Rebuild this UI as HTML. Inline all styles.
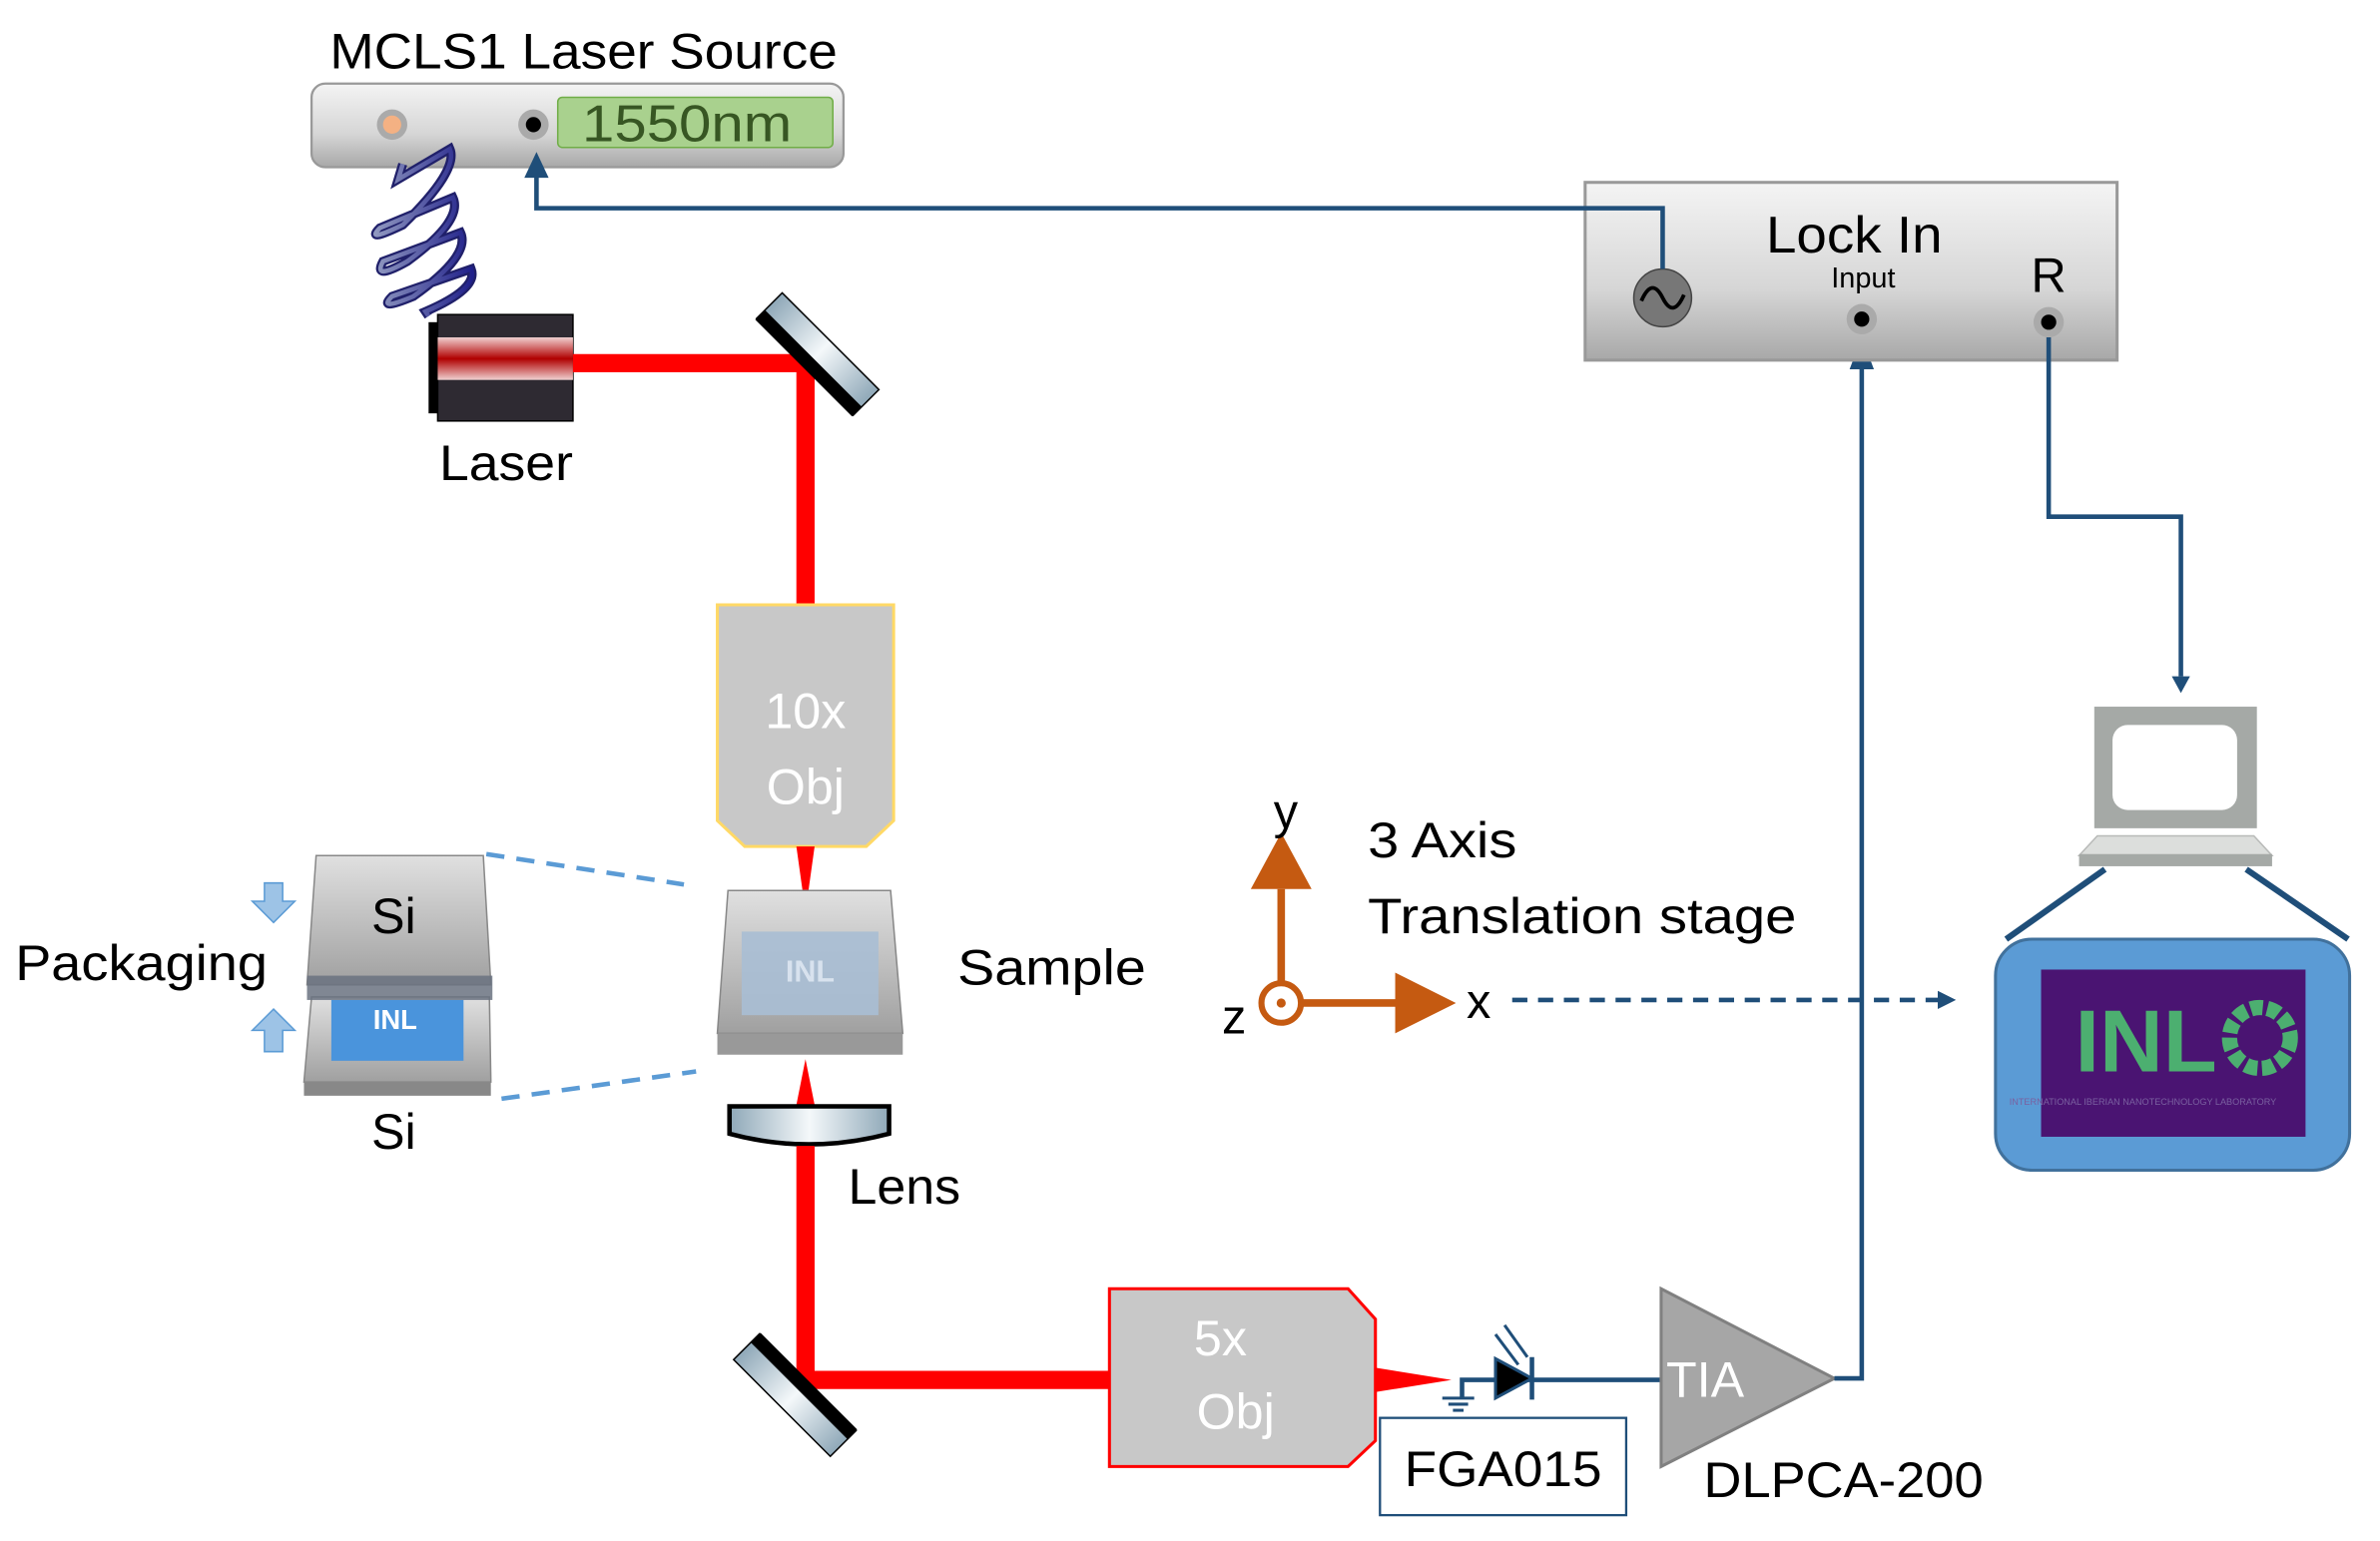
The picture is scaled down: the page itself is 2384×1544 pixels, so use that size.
<!DOCTYPE html>
<html><head><meta charset="utf-8"><style>
html,body{margin:0;padding:0;background:#fff}
svg{display:block}
text{font-family:"Liberation Sans",sans-serif}
</style></head><body>
<svg width="2384" height="1544" viewBox="0 0 1566 1014" preserveAspectRatio="none" xmlns="http://www.w3.org/2000/svg">
<defs>
<linearGradient id="box" x1="0" y1="0" x2="0" y2="1"><stop offset="0" stop-color="#f4f4f4"/><stop offset="0.6" stop-color="#d6d6d6"/><stop offset="1" stop-color="#a8a8a8"/></linearGradient>
<linearGradient id="las" x1="0" y1="0" x2="0" y2="1"><stop offset="0" stop-color="#f0d0d0"/><stop offset="0.5" stop-color="#b00000"/><stop offset="1" stop-color="#f0d0d0"/></linearGradient>
<linearGradient id="mir" x1="0" y1="0" x2="1" y2="0"><stop offset="0" stop-color="#8fa8b8"/><stop offset="0.5" stop-color="#f4f8fa"/><stop offset="1" stop-color="#8fa8b8"/></linearGradient>
<linearGradient id="chip" x1="0" y1="0" x2="0" y2="1"><stop offset="0" stop-color="#e0e0e0"/><stop offset="1" stop-color="#a0a0a0"/></linearGradient>
<linearGradient id="coil" x1="0" y1="0" x2="1" y2="0"><stop offset="0" stop-color="#9098c0"/><stop offset="1" stop-color="#20208a"/></linearGradient>
</defs>

<text x="384" y="45" font-size="33" text-anchor="middle" textLength="334" lengthAdjust="spacingAndGlyphs">MCLS1 Laser Source</text>
<rect x="205" y="55" width="350" height="55" rx="9" fill="url(#box)" stroke="#999" stroke-width="1.5"/>
<circle cx="258" cy="82" r="10" fill="#aaa"/><circle cx="258" cy="82" r="6" fill="#f4b183"/>
<circle cx="351" cy="82" r="10" fill="#aaa"/><circle cx="351" cy="82" r="5" fill="#000"/>
<rect x="367" y="64" width="181" height="33" rx="3" fill="#a9d18e" stroke="#70ad47"/>
<text x="452" y="93" font-size="34" fill="#375623" text-anchor="middle" textLength="138" lengthAdjust="spacingAndGlyphs">1550nm</text>

<path d="M265,108 L262,118 L296,98 Q302,112 265,148 Q240,160 250,150 L298,130 Q305,145 268,172 Q245,185 252,172 L303,153 Q310,168 272,195 Q248,205 258,195 L310,177 Q315,190 280,205 L282,208" fill="none" stroke="#20206a" stroke-width="6"/>
<path d="M265,108 L262,118 L296,98 Q302,112 265,148 Q240,160 250,150 L298,130 Q305,145 268,172 Q245,185 252,172 L303,153 Q310,168 272,195 Q248,205 258,195 L310,177 Q315,190 280,205 L282,208" fill="none" stroke="url(#coil)" stroke-width="3"/>

<rect x="282" y="212" width="7" height="60" fill="#000"/>
<rect x="288" y="207" width="89" height="70" fill="#2e2a32" stroke="#000"/>
<rect x="288" y="222" width="89" height="28" fill="url(#las)"/>
<text x="333" y="316" font-size="33" text-anchor="middle" textLength="88" lengthAdjust="spacingAndGlyphs">Laser</text>

<path d="M377,239 H530 V398" fill="none" stroke="#f00" stroke-width="12"/>
<g transform="translate(538,233) rotate(45)">
<rect x="-45" y="-12" width="90" height="24" fill="url(#mir)" stroke="#000"/>
<rect x="-45" y="4" width="90" height="9" fill="#000"/>
</g>

<polygon points="472,398 588,398 588,540 570,557 490,557 472,540" fill="#c8c8c8" stroke="#ffd966" stroke-width="2"/>
<text x="530" y="479" font-size="33" fill="#fff" text-anchor="middle">10x</text>
<text x="530" y="529" font-size="33" fill="#fff" text-anchor="middle">Obj</text>
<polygon points="524,557 536,557 530,600" fill="#f00"/>

<polygon points="479,586 586,586 594,680 472,680" fill="url(#chip)" stroke="#888"/>
<rect x="472" y="680" width="122" height="14" fill="#999"/>
<rect x="488" y="613" width="90" height="55" fill="#a9bed4" opacity="0.9"/>
<text x="533" y="646" font-size="20" fill="#d8e2ee" text-anchor="middle" font-weight="bold">INL</text>
<polygon points="524,727 536,727 530,697" fill="#f00"/>
<text x="692" y="648" font-size="33" text-anchor="middle" textLength="124" lengthAdjust="spacingAndGlyphs">Sample</text>

<path d="M480,728 H585 V746 Q532,760 480,746 Z" fill="url(#mir)" stroke="#000" stroke-width="3"/>
<text x="595" y="792" font-size="33" text-anchor="middle" textLength="74" lengthAdjust="spacingAndGlyphs">Lens</text>
<path d="M530,754 V908 H732" fill="none" stroke="#f00" stroke-width="12"/>
<g transform="translate(523,918) rotate(45)">
<rect x="-45" y="-12" width="90" height="24" fill="url(#mir)" stroke="#000"/>
<rect x="-45" y="-13" width="90" height="9" fill="#000"/>
</g>

<polygon points="730,848 887,848 905,868 905,948 887,965 730,965" fill="#c8c8c8" stroke="#f00" stroke-width="2"/>
<text x="803" y="892" font-size="33" fill="#fff" text-anchor="middle">5x</text>
<text x="813" y="940" font-size="33" fill="#fff" text-anchor="middle">Obj</text>
<polygon points="905,900 905,916 955,908" fill="#f00"/>

<path d="M962,920 V908 H1093" fill="none" stroke="#1f4e79" stroke-width="3"/>
<line x1="949" y1="920" x2="970" y2="920" stroke="#1f4e79" stroke-width="2"/>
<line x1="953" y1="924" x2="966" y2="924" stroke="#1f4e79" stroke-width="2"/>
<line x1="956" y1="928" x2="963" y2="928" stroke="#1f4e79" stroke-width="2"/>
<polygon points="984,894 984,920 1008,907" fill="#000" stroke="#1f4e79" stroke-width="2"/>
<line x1="1008" y1="893" x2="1008" y2="921" stroke="#1f4e79" stroke-width="3"/>
<path d="M984,878 L999,898 M990,872 L1005,893" stroke="#1f4e79" stroke-width="2"/>
<rect x="908" y="933" width="162" height="64" fill="#fff" stroke="#1f4e79" stroke-width="1.5"/>
<text x="989" y="978" font-size="33" text-anchor="middle" textLength="130" lengthAdjust="spacingAndGlyphs">FGA015</text>

<polygon points="1093,848 1093,965 1207,907" fill="#a6a6a6" stroke="#808080" stroke-width="2"/>
<text x="1122" y="919" font-size="33" fill="#fff" text-anchor="middle">TIA</text>
<text x="1213" y="985" font-size="33" text-anchor="middle" textLength="184" lengthAdjust="spacingAndGlyphs">DLPCA-200</text>
<path d="M1207,907 H1225 V236" fill="none" stroke="#1f4e79" stroke-width="3"/>
<polygon points="1217,243 1233,243 1225,222" fill="#1f4e79"/>

<rect x="1043" y="120" width="350" height="117" fill="url(#box)" stroke="#999" stroke-width="2"/>
<text x="1220" y="166" font-size="34" text-anchor="middle" textLength="116" lengthAdjust="spacingAndGlyphs">Lock In</text>
<text x="1226" y="189" font-size="19" text-anchor="middle">Input</text>
<text x="1348" y="192" font-size="32" text-anchor="middle">R</text>
<circle cx="1225" cy="210" r="10" fill="#aaa"/><circle cx="1225" cy="210" r="5" fill="#000"/>
<circle cx="1348" cy="212" r="10" fill="#aaa"/><circle cx="1348" cy="212" r="5" fill="#000"/>
<circle cx="1094" cy="196" r="19" fill="#777" stroke="#444"/>
<path d="M1080,198 Q1087,182 1094,196 Q1101,210 1108,194" fill="none" stroke="#000" stroke-width="2.5"/>
<path d="M1094,177 V137 H353 V115" fill="none" stroke="#1f4e79" stroke-width="3"/>
<polygon points="345,117 361,117 353,100" fill="#1f4e79"/>
<path d="M1348,222 V340 H1435 V445" fill="none" stroke="#1f4e79" stroke-width="3"/>
<polygon points="1429,445 1441,445 1435,456" fill="#1f4e79"/>

<rect x="1378" y="465" width="107" height="80" fill="#a5a9a6"/>
<rect x="1390" y="477" width="82" height="56" rx="10" fill="#fff"/>
<polygon points="1380,550 1483,550 1495,563 1368,563" fill="#dcdedc" stroke="#b8bab8"/>
<rect x="1368" y="562" width="127" height="8" fill="#a5a9a6"/>
<line x1="1385" y1="572" x2="1320" y2="618" stroke="#1f4e79" stroke-width="4"/>
<line x1="1478" y1="572" x2="1545" y2="618" stroke="#1f4e79" stroke-width="4"/>
<rect x="1313" y="618" width="233" height="152" rx="24" fill="#5b9bd5" stroke="#41719c" stroke-width="2"/>
<rect x="1343" y="638" width="174" height="110" fill="#4a1472"/>
<text x="1412" y="705" font-size="58" fill="#4caf70" text-anchor="middle" font-weight="bold">INL</text>
<circle cx="1487" cy="683" r="20" fill="none" stroke="#4caf70" stroke-width="10" stroke-dasharray="8 3"/>
<text x="1410" y="727" font-size="6" fill="#7a60a0" text-anchor="middle">INTERNATIONAL IBERIAN NANOTECHNOLOGY LABORATORY</text>

<path d="M843,660 V585 M843,660 H925" stroke="#c55a11" stroke-width="5"/>
<polygon points="823,585 863,585 843,548" fill="#c55a11"/>
<polygon points="918,640 918,680 958,660" fill="#c55a11"/>
<circle cx="843" cy="660" r="13" fill="#fff" stroke="#c55a11" stroke-width="4"/>
<circle cx="843" cy="660" r="3" fill="#c55a11"/>
<text x="846" y="545" font-size="32" text-anchor="middle">y</text>
<text x="973" y="670" font-size="32" text-anchor="middle">x</text>
<text x="812" y="680" font-size="32" text-anchor="middle">z</text>
<text x="900" y="564" font-size="33" textLength="98" lengthAdjust="spacingAndGlyphs">3 Axis</text>
<text x="900" y="614" font-size="33" textLength="282" lengthAdjust="spacingAndGlyphs">Translation stage</text>
<line x1="995" y1="658" x2="1278" y2="658" stroke="#1f4e79" stroke-width="3" stroke-dasharray="10 7"/>
<polygon points="1275,652 1275,664 1287,658" fill="#1f4e79"/>

<line x1="320" y1="562" x2="450" y2="582" stroke="#5b9bd5" stroke-width="3" stroke-dasharray="12 8"/>
<line x1="330" y1="723" x2="458" y2="705" stroke="#5b9bd5" stroke-width="3" stroke-dasharray="12 8"/>
<polygon points="205,656 322,656 323,712 200,712" fill="url(#chip)" stroke="#888"/>
<rect x="200" y="712" width="123" height="9" fill="#888"/>
<rect x="218" y="658" width="87" height="40" fill="#4a94dc"/>
<text x="260" y="677" font-size="18" fill="#fff" text-anchor="middle" font-weight="bold">INL</text>
<polygon points="208,563 318,563 323,648 202,648" fill="url(#chip)" stroke="#888"/>
<rect x="202" y="642" width="122" height="16" fill="#6a7280" opacity="0.85"/>
<text x="259" y="614" font-size="33" text-anchor="middle">Si</text>
<text x="259" y="756" font-size="33" text-anchor="middle">Si</text>
<polygon points="174,581 186,581 186,593 194,593 180,607 166,593 174,593" fill="#9dc3e6" stroke="#5b9bd5"/>
<polygon points="180,664 194,678 186,678 186,692 174,692 174,678 166,678" fill="#9dc3e6" stroke="#5b9bd5"/>
<text x="93" y="645" font-size="33" text-anchor="middle" textLength="166" lengthAdjust="spacingAndGlyphs">Packaging</text>
</svg>
</body></html>
